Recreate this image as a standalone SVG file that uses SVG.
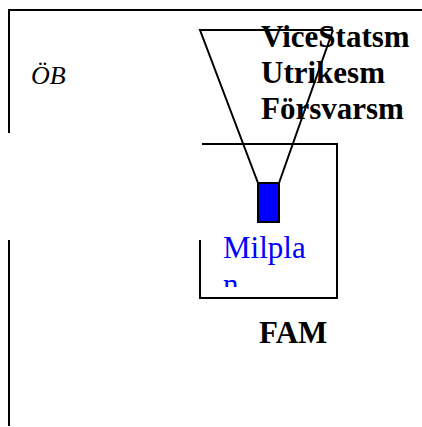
<svg xmlns="http://www.w3.org/2000/svg" width="422" height="427" viewBox="0 0 422 427">
<style>
.ln{stroke:#000;stroke-width:2;fill:none}
.serif{font-family:"Liberation Serif","Times New Roman",Tinos,"DejaVu Serif",serif}
.bold{font-weight:bold;font-size:31px;fill:#000}
.it{font-style:italic;font-weight:normal;font-size:26px;fill:#000}
.blue{font-weight:normal;font-size:31px;fill:#0000FF}
</style>
<defs><clipPath id="boxclip"><rect x="200" y="144" width="137" height="143"/></clipPath></defs>
<rect width="422" height="427" fill="#fff"/>
<g id="frame">
<path class="ln" d="M9,133 V10 H422"/>
<path class="ln" d="M9,240 V426"/>
<text class="serif it" x="31" y="84">ÖB</text>
</g>
<g id="fam">
<path class="ln" d="M202,144 H337 V298 H200 V240"/>
<text class="serif blue" clip-path="url(#boxclip)"><tspan x="223" y="258">Milpla</tspan><tspan x="223" y="295">n</tspan></text>
<text class="serif bold" x="259" y="343">FAM</text>
</g>
<g id="ministers">
<text class="serif bold" x="261" y="47">ViceStatsm</text>
<text class="serif bold" x="261" y="83">Utrikesm</text>
<text class="serif bold" x="261" y="119">Försvarsm</text>
</g>
<g id="connectors">
<path class="ln" d="M333,30 H200 L258,183 M333,30 L279,183"/>
</g>
<g id="milplan">
<rect x="258" y="183" width="21" height="39" fill="#0000FF" stroke="#000" stroke-width="2"/>
</g>
</svg>
